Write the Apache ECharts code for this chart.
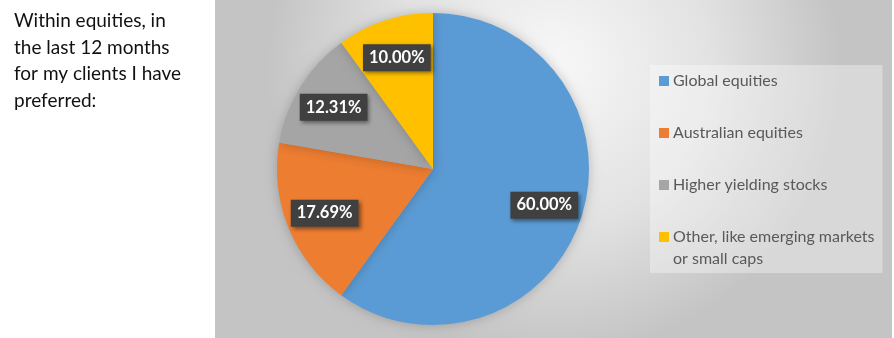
<!DOCTYPE html>
<html>
<head>
<meta charset="utf-8">
<script src="https://cdn.jsdelivr.net/npm/echarts@6/dist/echarts.min.js"></script>
<style>
html,body{margin:0;padding:0;background:#fff;}
#chart{width:894px;height:338px;}
</style>
</head>
<body>
<div id="chart"></div>
<script>
const categories = ['Global equities', 'Australian equities', 'Higher yielding stocks', 'Other, like emerging markets\nor small caps'];
const values = [60.00, 17.69, 12.31, 10.00];
const colors = ['#5B9BD5', '#ED7D31', '#A5A5A5', '#FFC000'];
const sideText = 'Within equities, in\nthe last 12 months\nfor my clients I have\npreferred:';

const FONT = 'Lato, "Open Sans", sans-serif';
const chart = echarts.init(document.getElementById('chart'), null, {renderer: 'canvas'});

const data = categories.map((c, i) => ({name: c, value: values[i], itemStyle: {color: colors[i]}}));

const rich = {
  t: {fontFamily: FONT, fontSize: 16, color: '#595959', lineHeight: 22, padding: [0, 0, 0, 4]},
  i: {width: 10, height: 10, lineHeight: 22}
};
colors.forEach((c, i) => {
  rich['s' + i] = {width: 10, height: 10, backgroundColor: c, lineHeight: 22};
});

chart.setOption({
  animation: false,
  color: colors,
  title: {
    text: sideText,
    left: 14, top: 8, padding: 0,
    textStyle: {fontFamily: FONT, fontSize: 19, fontWeight: 'normal', color: '#111', lineHeight: 26.5}
  },
  graphic: [{
    type: 'rect', left: 215, top: 0, z: -10, silent: true,
    shape: {width: 677, height: 338},
    style: {
      fill: {
        type: 'radial', x: 0.5, y: 0.2, r: 0.85,
        colorStops: [{offset: 0, color: '#f8f8f8'}, {offset: 0.55, color: '#e2e2e2'}, {offset: 1, color: '#c4c4c4'}]
      }
    }
  }],
  legend: {
    orient: 'vertical',
    left: 650, top: 65,
    icon: 'none', itemWidth: 0, itemHeight: 0, itemGap: 30,
    padding: [5, 8, 3, 4],
    backgroundColor: 'rgba(255,255,255,0.35)',
    selectedMode: false,
    data: categories,
    formatter: function (name) {
      const idx = categories.indexOf(name);
      const lines = name.split('\n');
      return lines.map((l, k) => (k === 0 ? '{s' + idx + '| }' : '{i| }') + '{t|' + l + '}').join('\n');
    },
    textStyle: {fontFamily: FONT, fontSize: 16, color: '#595959', lineHeight: 22, rich: rich}
  },
  series: [
    {
      type: 'pie',
      center: [433, 169],
      radius: 156,
      startAngle: 90,
      clockwise: true,
      label: {show: false},
      labelLine: {show: false},
      itemStyle: {shadowBlur: 12, shadowColor: 'rgba(0,0,0,0.22)'},
      emphasis: {disabled: true},
      data: data
    },
    {
      type: 'pie',
      center: [433, 169],
      radius: [72, 156],
      startAngle: 90,
      clockwise: true,
      silent: true,
      z: 5,
      itemStyle: {color: 'rgba(0,0,0,0)'},
      labelLine: {show: false},
      label: {
        show: true,
        position: 'inside',
        formatter: p => p.value.toFixed(2) + '%',
        fontFamily: FONT, fontSize: 16.5, fontWeight: 'bold', color: '#ffffff',
        lineHeight: 19,
        backgroundColor: '#404040',
        padding: [4, 6, 4, 6],
        shadowColor: 'rgba(0,0,0,0.45)', shadowBlur: 4, shadowOffsetX: 2, shadowOffsetY: 2
      },
      emphasis: {disabled: true},
      data: categories.map((c, i) => ({name: c, value: values[i]}))
    }
  ]
});
</script>
</body>
</html>
